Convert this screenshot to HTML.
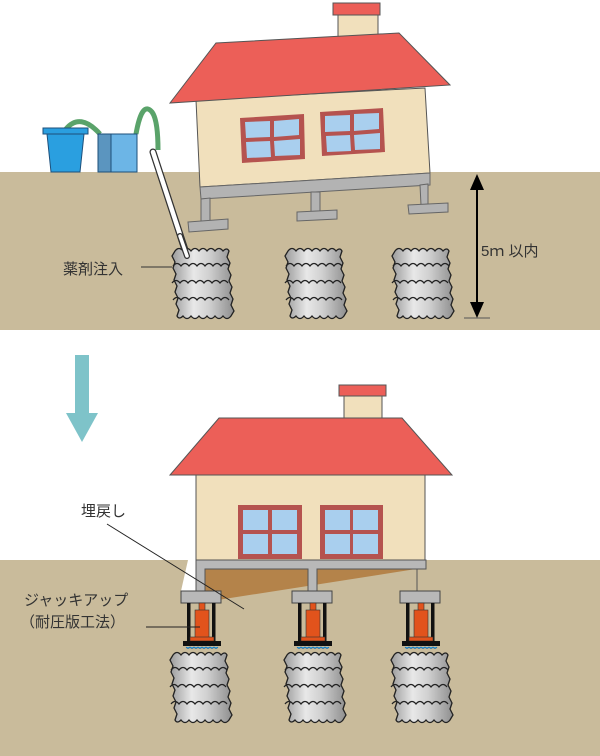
<!DOCTYPE html>
<html><head><meta charset="utf-8"><style>
html,body{margin:0;padding:0;background:#fff;width:600px;height:756px;overflow:hidden}
svg{display:block}
text{font-family:"Liberation Sans","Noto Sans CJK JP",sans-serif;fill:#333}
</style></head><body>
<svg width="600" height="756" viewBox="0 0 600 756" xmlns="http://www.w3.org/2000/svg">
<defs>
<linearGradient id="g" x1="0" x2="1" y1="0" y2="0">
<stop offset="0" stop-color="#9a9a9a"/><stop offset="0.35" stop-color="#e8e8e8"/><stop offset="0.6" stop-color="#d0d0d0"/><stop offset="1" stop-color="#8e8e8e"/>
</linearGradient>
<g id="col">
<path d="M3,3 q4,-5 8,0 q4,-5 8,0 q4,-5 8,0 q4,-5 8,0 q4,-5 8,0 q4,-5 8,0 q4,-4 6,0 l-2,6 l3,6 l-2,6 l3,6 l-2,6 l3,6 l-2,6 l3,6 l-2,6 l3,6 l-3,5 q-4,5 -8,0 q-4,5 -8,0 q-4,5 -8,0 q-4,5 -8,0 q-4,5 -8,0 q-4,5 -8,0 q-4,4 -6,0 l2,-6 l-3,-6 l2,-6 l-3,-6 l2,-6 l-3,-6 l2,-6 l-3,-6 l2,-6 l-3,-6 z" fill="url(#g)" stroke="#222" stroke-width="1.3"/>
<path d="M1,18 q4,-5 8,0 q4,-5 8,0 q4,-5 8,0 q4,-5 8,0 q4,-5 8,0 q4,-5 8,0 q4,-5 8,0 M0,35 q4,-5 8,0 q4,-5 8,0 q4,-5 8,0 q4,-5 8,0 q4,-5 8,0 q4,-5 8,0 q4,-5 8,0 M1,52 q4,-5 8,0 q4,-5 8,0 q4,-5 8,0 q4,-5 8,0 q4,-5 8,0 q4,-5 8,0 q4,-5 8,0" fill="none" stroke="#222" stroke-width="1.3"/>
</g>
<g id="jack">
<rect x="0" y="0" width="40" height="12" fill="#b8b8b8" stroke="#444" stroke-width="1"/>
<rect x="6" y="12" width="3.5" height="38" fill="#111"/>
<rect x="31" y="12" width="3.5" height="38" fill="#111"/>
<rect x="18" y="12" width="6" height="8" fill="#e2531c" stroke="#333" stroke-width="0.6"/>
<rect x="14" y="19" width="14" height="28" fill="#e2531c" stroke="#333" stroke-width="0.6"/>
<rect x="9" y="46" width="24" height="4" fill="#e2531c" stroke="#333" stroke-width="0.6"/>
<rect x="2" y="50" width="38" height="5" fill="#111"/>
<path d="M5,56 q2,3 4,0 q2,3 4,0 q2,3 4,0 q2,3 4,0 q2,3 4,0 q2,3 4,0 q2,3 4,0 q2,3 4,0" fill="#3aa0dc" stroke="#1870b0" stroke-width="0.8"/>
</g>
</defs>

<!-- TOP PANEL -->
<rect x="0" y="172" width="600" height="158" fill="#c9bb9b"/>
<!-- buckets -->
<path d="M66,129 Q80,112 100,134" fill="none" stroke="#5aa36a" stroke-width="5"/>
<path d="M136,134 Q142,100 152,112 Q158,120 158,150" fill="none" stroke="#5aa36a" stroke-width="5"/>
<rect x="43" y="128" width="45" height="6" fill="#2a9fe0" stroke="#1d4f7a" stroke-width="1"/>
<path d="M47,134 L84,134 L80,172 L51,172 Z" fill="#2a9fe0" stroke="#1d4f7a" stroke-width="1"/>
<rect x="98" y="134" width="39" height="38" fill="#6cb5e6" stroke="#1d4f7a" stroke-width="1"/>
<rect x="98" y="134" width="13" height="38" fill="#5b95bf" stroke="#1d4f7a" stroke-width="1"/>
<!-- pipe -->
<path d="M153,152 L187,256" stroke="#333" stroke-width="7" stroke-linecap="round"/>
<path d="M153,152 L187,256" stroke="#fff" stroke-width="4.5" stroke-linecap="round"/>
<!-- house top -->
<polygon points="196,100 425,88 430,173 200,187" fill="#f1e0bc" stroke="#555" stroke-width="1"/>
<polygon points="200,187 430,173 430,185 201,199" fill="#b3b3b3" stroke="#666" stroke-width="1"/>
<polygon points="201,199 210,198 210,222 201,223" fill="#b3b3b3" stroke="#666" stroke-width="1"/>
<polygon points="188,222 228,219 228,229 189,232" fill="#b3b3b3" stroke="#666" stroke-width="1"/>
<polygon points="311,192 320,192 320,212 311,212" fill="#b3b3b3" stroke="#666" stroke-width="1"/>
<polygon points="297,212 337,210 337,219 297,221" fill="#b3b3b3" stroke="#666" stroke-width="1"/>
<polygon points="420,185 428,184 428,204 421,205" fill="#b3b3b3" stroke="#666" stroke-width="1"/>
<polygon points="408,205 448,203 448,212 409,214" fill="#b3b3b3" stroke="#666" stroke-width="1"/>
<rect x="338" y="14" width="40" height="27" fill="#f1e0bc" stroke="#555" stroke-width="1"/>
<rect x="333" y="3" width="47" height="12" fill="#ec5f58" stroke="#555" stroke-width="1"/>
<polygon points="216,43 399,33 450,85 170,103" fill="#ec5f58" stroke="#555" stroke-width="1"/>
<polygon points="240,118 304,114 305,159 242,163" fill="#b5534f"/>
<polygon points="245,122 270,121 270,137 246,138" fill="#a9cfee"/><polygon points="274,121 299,119 299,135 274,137" fill="#a9cfee"/>
<polygon points="246,142 270,141 271,157 247,158" fill="#a9cfee"/><polygon points="274,141 300,139 300,155 275,156" fill="#a9cfee"/>
<polygon points="320,112 383,108 385,152 322,156" fill="#b5534f"/>
<polygon points="325,116 350,115 350,131 325,132" fill="#a9cfee"/><polygon points="354,114 379,113 379,129 354,131" fill="#a9cfee"/>
<polygon points="326,136 350,135 351,151 327,152" fill="#a9cfee"/><polygon points="354,135 380,133 380,149 355,150" fill="#a9cfee"/>
<!-- columns top -->
<use href="#col" x="172" y="248"/>
<use href="#col" x="285" y="248"/>
<use href="#col" x="392" y="248"/>
<!-- re-draw pipe tip over column -->
<path d="M180,236 L187,256" stroke="#333" stroke-width="6" stroke-linecap="round"/>
<path d="M180,236 L187,256" stroke="#fff" stroke-width="3.5" stroke-linecap="round"/>
<!-- dimension -->
<line x1="477" y1="185" x2="477" y2="306" stroke="#000" stroke-width="2"/>
<polygon points="477,174 470,190 484,190" fill="#000"/>
<polygon points="477,318 470,302 484,302" fill="#000"/>
<line x1="464" y1="318" x2="490" y2="318" stroke="#555" stroke-width="1"/>
<text x="481" y="256" font-size="15">5ｍ 以内</text>
<text x="63" y="274" font-size="15">薬剤注入</text>
<line x1="141" y1="267" x2="172" y2="267" stroke="#333" stroke-width="1"/>

<!-- ARROW -->
<rect x="75" y="355" width="14" height="58" fill="#7ec3c9"/>
<polygon points="66,413 98,413 82,442" fill="#7ec3c9"/>

<!-- BOTTOM PANEL -->
<rect x="0" y="560" width="600" height="196" fill="#c9bb9b"/>
<polygon points="188,560 197,560 197,591 181,591" fill="#fff"/>
<rect x="196" y="475" width="229" height="85" fill="#f1e0bc" stroke="#555" stroke-width="1"/>
<rect x="344" y="394" width="38" height="29" fill="#f1e0bc" stroke="#555" stroke-width="1"/>
<rect x="339" y="385" width="47" height="11" fill="#ec5f58" stroke="#555" stroke-width="1"/>
<polygon points="219,418 402,418 452,475 170,475" fill="#ec5f58" stroke="#555" stroke-width="1"/>
<rect x="238" y="505" width="64" height="54" fill="#b5534f"/>
<rect x="243" y="510" width="25" height="20" fill="#a9cfee"/><rect x="272" y="510" width="25" height="20" fill="#a9cfee"/>
<rect x="243" y="534" width="25" height="20" fill="#a9cfee"/><rect x="272" y="534" width="25" height="20" fill="#a9cfee"/>
<rect x="320" y="505" width="63" height="54" fill="#b5534f"/>
<rect x="325" y="510" width="25" height="20" fill="#a9cfee"/><rect x="353" y="510" width="25" height="20" fill="#a9cfee"/>
<rect x="325" y="534" width="25" height="20" fill="#a9cfee"/><rect x="353" y="534" width="25" height="20" fill="#a9cfee"/>
<!-- backfill -->
<polygon points="205,569 416,569 205,602" fill="#b4834a"/>
<!-- foundation -->
<path d="M196,560 H426 V569 H417 V591 H432 V600 H408 V591 H417 V569 H317 V591 H332 V600 H292 V591 H308 V569 H205 V591 H220 V600 H181 V591 H196 Z" fill="#b8b8b8" stroke="#555" stroke-width="1"/>
<!-- jacks -->
<use href="#jack" x="181" y="591"/>
<use href="#jack" x="292" y="591"/>
<use href="#jack" x="400" y="591"/>
<!-- columns -->
<use href="#col" x="170" y="652"/>
<use href="#col" x="284" y="652"/>
<use href="#col" x="391" y="652"/>
<!-- labels -->
<text x="81" y="516" font-size="15">埋戻し</text>
<line x1="107" y1="524" x2="244" y2="609" stroke="#222" stroke-width="1"/>
<text x="24" y="605" font-size="15">ジャッキアップ</text>
<text x="20" y="627" font-size="15">（耐圧版工法）</text>
<line x1="146" y1="627" x2="200" y2="627" stroke="#222" stroke-width="1"/>
</svg>
</body></html>
